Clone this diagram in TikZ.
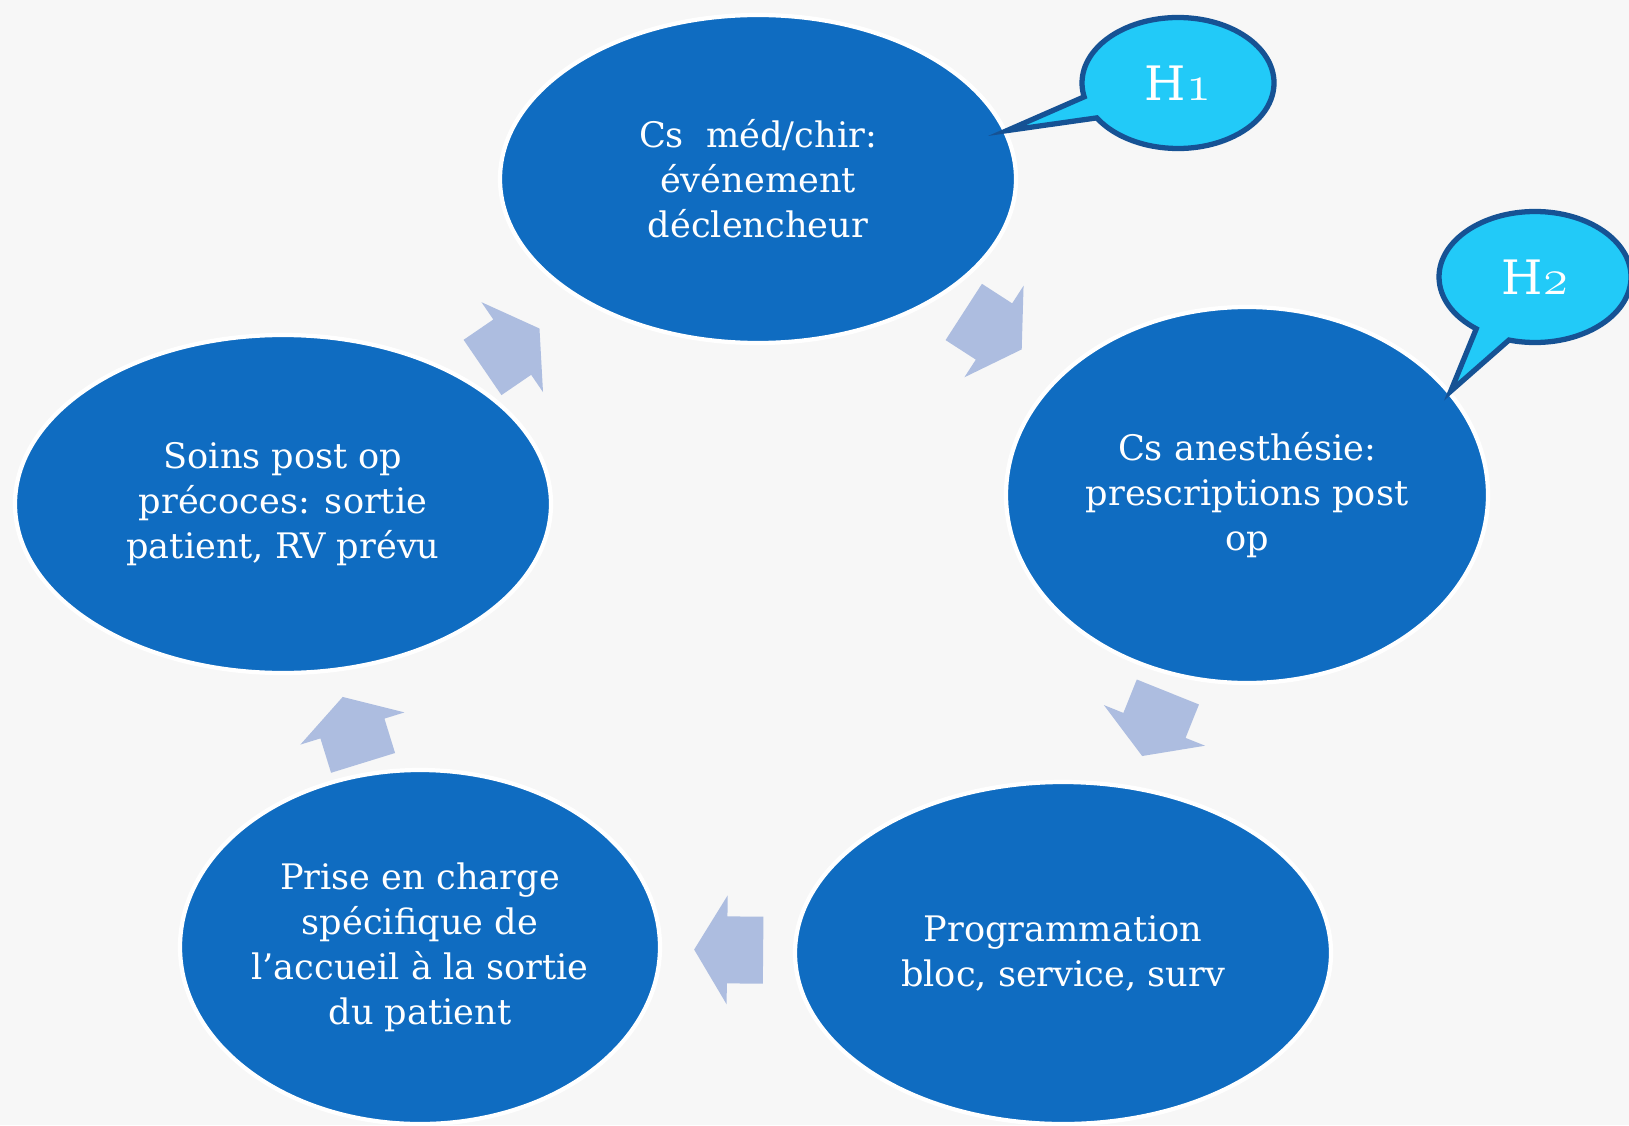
\documentclass[tikz,border=0pt]{standalone}
\usepackage{fontspec}
\setmainfont{DejaVu Serif}
\usetikzlibrary{shapes.geometric,shapes.callouts,calc}
\definecolor{bgc}{RGB}{247,247,247}
\definecolor{stepblue}{RGB}{15,108,193}
\definecolor{cyclegray}{RGB}{173,189,224}
\definecolor{bubblefill}{RGB}{34,202,248}
\definecolor{bubbleline}{RGB}{22,82,148}
\newcommand{\oldnum}[1]{{\usefont{OML}{cmm}{m}{it}#1}}
\begin{document}
\begin{tikzpicture}[
  stage/.style={ellipse,fill=stepblue,draw=white,line width=1.2pt,inner sep=0pt,text=white,align=center,font=\fontsize{10}{12.8}\selectfont},
  cyclearrow/.pic={\fill[cyclegray] (-0.345,-0.335) -- (0.015,-0.335) -- (0.015,-0.545) -- (0.345,0) -- (0.015,0.545) -- (0.015,0.335) -- (-0.345,0.335) -- cycle;},
  turn/.style={sloped,allow upside down},
  bubble/.style={ellipse callout,fill=bubblefill,draw=bubbleline,line width=1.5pt,inner sep=0pt,minimum width=1.92cm,minimum height=1.31cm,text=white,font=\fontsize{13.5}{15}\selectfont}
]
\useasboundingbox (0,0) rectangle (16.29,11.25);
\fill[bgc] (0,0) rectangle (16.29,11.25);
\node[stage,minimum width=5.16cm,minimum height=3.28cm] (cs) at (7.58,9.46) {Cs\ \ méd/chir:\\événement\\déclencheur};
\node[stage,minimum width=4.82cm,minimum height=3.76cm] (anest) at (12.47,6.30) {Cs anesthésie:\\prescriptions post\\op};
\node[stage,minimum width=5.36cm,minimum height=3.42cm] (prog) at (10.63,1.72) {Programmation\\bloc, service, surv};
\node[stage,minimum width=4.80cm,minimum height=3.54cm] (prise) at (4.20,1.78) {Prise en charge\\spécifique de\\l’accueil à la sortie\\du patient};
\node[stage,minimum width=5.36cm,minimum height=3.38cm] (soins) at (2.83,6.21) {Soins post op\\précoces: sortie\\patient, RV prévu};
\path (cs.center) -- pic[turn,pos=.48] (a1) {cyclearrow} (anest.center);
\path (anest.center) -- pic[turn,pos=.5] (a2) {cyclearrow} (prog.center);
\path (prog.center) -- pic[turn,pos=.52] (a3) {cyclearrow} (prise.center);
\path (prise.center) -- pic[turn,pos=.49] (a4) {cyclearrow} (soins.center);
\path (soins.center) -- pic[turn,pos=.48] (a5) {cyclearrow} (cs.center);
\node[bubble,callout absolute pointer={(cs.11)},callout pointer arc=20] (h1) at (11.78,10.42) {H\oldnum{1}};
\node[bubble,callout absolute pointer={(anest.27)},callout pointer arc=22] (h2) at (15.35,8.48) {H\oldnum{2}};
\end{tikzpicture}
\end{document}
